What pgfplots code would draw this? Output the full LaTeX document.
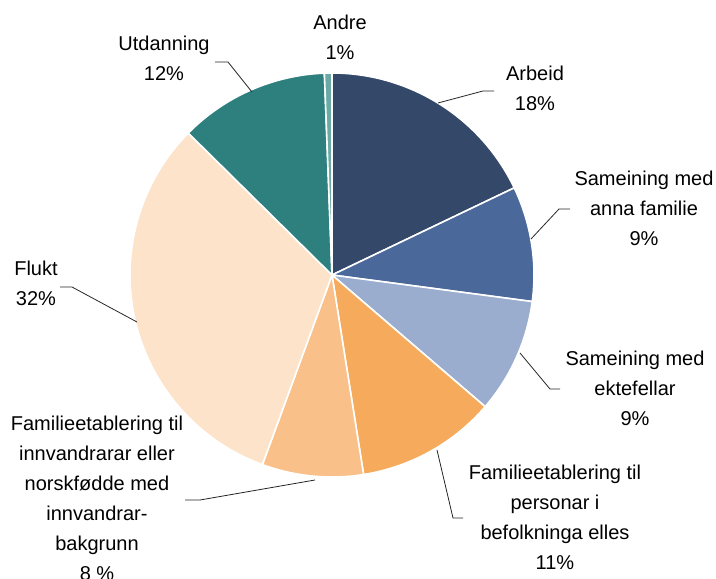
\documentclass[border=0pt]{standalone}
\usepackage{pgfplots}
\usepackage{pgfplotstable}
\pgfplotsset{compat=1.18}
\usepackage{fontspec}
\setmainfont{Liberation Sans}
\definecolor{cArb}{HTML}{344869}
\definecolor{cAnna}{HTML}{4A6899}
\definecolor{cEkt}{HTML}{9AADCF}
\definecolor{cPers}{HTML}{F6AA5C}
\definecolor{cInnv}{HTML}{F9C089}
\definecolor{cFlukt}{HTML}{FDE3C9}
\definecolor{cUtd}{HTML}{2D807E}
\definecolor{cAndre}{HTML}{6AAAA5}
\pgfplotstableread{
label value color
Arbeid 17.9 cArb
AnnaFamilie 9.2 cAnna
Ektefellar 9.2 cEkt
Personar 11.2 cPers
Innvandrarar 8.1 cInnv
Flukt 31.8 cFlukt
Utdanning 12.0 cUtd
Andre 0.6 cAndre
}\piedata
\begin{document}
\begin{tikzpicture}
\begin{axis}[
  x=1pt, y=1pt, scale only axis, hide axis,
  xmin=0, xmax=716, ymin=0, ymax=579,
  clip=false,
]
\coordinate (bl) at (axis cs:0,0);
\coordinate (tr) at (axis cs:716,579);
\xdef\cum{0}
\pgfplotsforeachungrouped \i in {0,...,7}{%
  \pgfplotstablegetelem{\i}{value}\of\piedata \let\v\pgfplotsretval
  \pgfplotstablegetelem{\i}{color}\of\piedata \let\c\pgfplotsretval
  \pgfmathsetmacro\a{90-3.6*\cum}%
  \pgfmathsetmacro\b{90-3.6*(\cum+\v)}%
  \pgfmathsetmacro\px{332+202*cos(\a)}%
  \pgfmathsetmacro\py{304+202*sin(\a)}%
  \edef\temp{\noexpand\fill[fill=\c, draw=white, line width=1.6pt, line join=round] (axis cs:332,304) -- (axis cs:\px,\py) arc[start angle=\a, end angle=\b, radius=202pt] -- cycle;}%
  \temp
  \pgfmathsetmacro\newcum{\cum+\v}%
  \xdef\cum{\newcum}%
}
% leader lines (pixel coords, y flipped: 579 - y)
\begin{scope}[black!85, line width=0.8pt]
\draw (axis cs:252,487) -- (axis cs:228,517) -- (axis cs:215,517);
\draw (axis cs:438,476) -- (axis cs:483,488) -- (axis cs:494,488);
\draw (axis cs:531,340) -- (axis cs:559,370) -- (axis cs:570,370);
\draw (axis cs:520,226) -- (axis cs:550,190) -- (axis cs:560,190);
\draw (axis cs:437,129) -- (axis cs:453,61) -- (axis cs:463,61);
\draw (axis cs:315,99) -- (axis cs:200,79) -- (axis cs:185,79);
\draw (axis cs:137,257) -- (axis cs:72,292) -- (axis cs:60,292);
\end{scope}
\begin{scope}[every node/.style={align=center, font=\fontsize{20}{30}\selectfont, inner sep=0pt}]
\node at (axis cs:340,541.5) {Andre\\1\%};
\node at (axis cs:164,520.5) {Utdanning\\12\%};
\node at (axis cs:535,491) {Arbeid\\18\%};
\node at (axis cs:644,371) {Sameining med\\anna familie\\9\%};
\node at (axis cs:635,191) {Sameining med\\ektefellar\\9\%};
\node at (axis cs:555,62) {Familieetablering til\\personar i\\befolkninga elles\\11\%};
\node at (axis cs:97,81) {Familieetablering til\\innvandrarar eller\\norskfødde med\\innvandrar-\\bakgrunn\\8 \%};
\node at (axis cs:36,296) {Flukt\\32\%};
\end{scope}
\end{axis}
\pgfresetboundingbox
\useasboundingbox (bl) rectangle (tr);
\end{tikzpicture}
\end{document}
